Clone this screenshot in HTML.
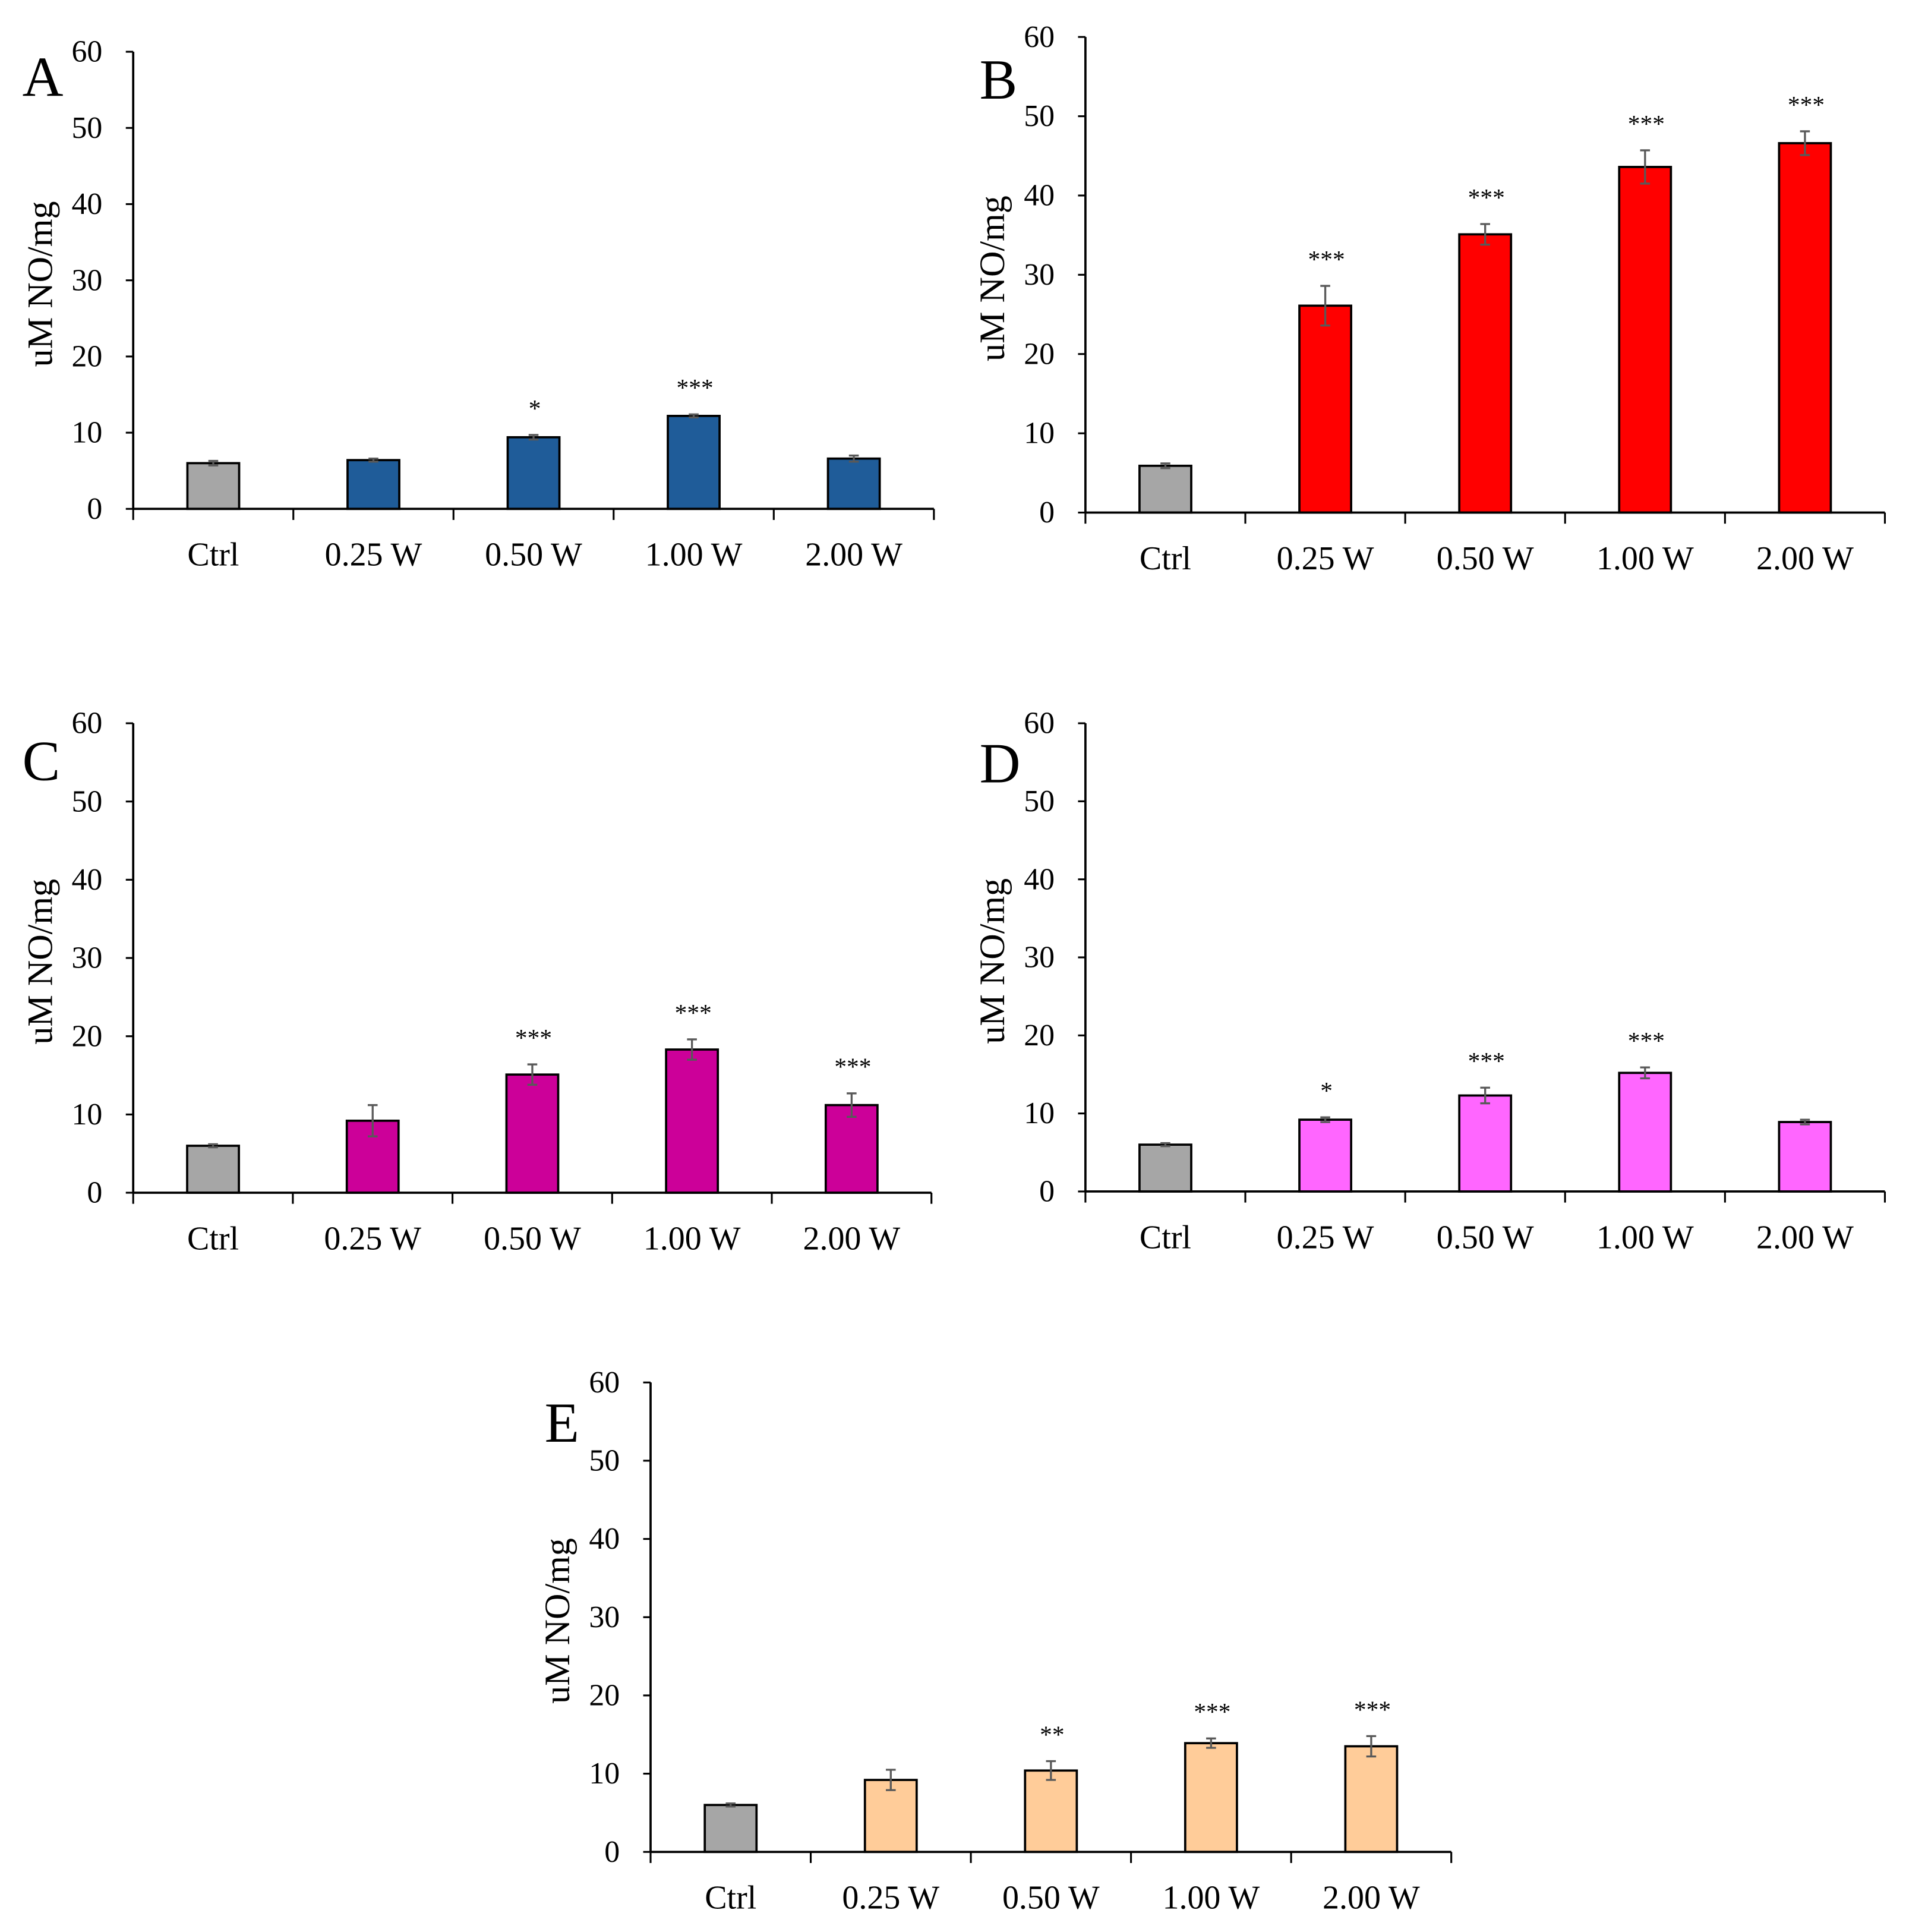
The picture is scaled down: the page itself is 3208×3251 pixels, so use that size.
<!DOCTYPE html>
<html><head><meta charset="utf-8"><style>
html,body{margin:0;padding:0;background:#fff;}
svg{display:block;}
text{font-family:"Liberation Serif",serif;fill:#000;}
</style></head><body>
<svg id="fig" width="3208" height="3251" viewBox="0 0 1547 1568" xmlns="http://www.w3.org/2000/svg"></svg>
<script>
const categories = ["Ctrl","0.25 W","0.50 W","1.00 W","2.00 W"];
const yTicks = [0,10,20,30,40,50,60];
const valuesA = [6.0,6.4,9.4,12.2,6.6];
const errorsA = [0.3,0.2,0.3,0.2,0.4];
const starsA = ["","","*","***",""];
const valuesB = [5.9,26.1,35.1,43.6,46.6];
const errorsB = [0.3,2.5,1.3,2.1,1.5];
const starsB = ["","***","***","***","***"];
const valuesC = [6.0,9.2,15.1,18.3,11.2];
const errorsC = [0.2,2.0,1.3,1.3,1.5];
const starsC = ["","","***","***","***"];
const valuesD = [6.0,9.2,12.3,15.2,8.9];
const errorsD = [0.2,0.3,1.0,0.7,0.3];
const starsD = ["","*","***","***",""];
const valuesE = [6.0,9.2,10.4,13.9,13.5];
const errorsE = [0.2,1.3,1.2,0.6,1.3];
const starsE = ["","","**","***","***"];

const NS="http://www.w3.org/2000/svg";
const svg=document.getElementById('fig');
function mk(tag,attrs,parent){const e=document.createElementNS(NS,tag);for(const k in attrs)e.setAttribute(k,attrs[k]);(parent||svg).appendChild(e);return e;}

const panels=[
 {id:'a',letter:'A',x0:108,x1:758,yTop:42,y0:413,vals:valuesA,errs:errorsA,stars:starsA,color:'#1f5c99',lx:18,ly:78},
 {id:'b',letter:'B',x0:881,x1:1530,yTop:30,y0:416,vals:valuesB,errs:errorsB,stars:starsB,color:'#ff0000',lx:795,ly:80},
 {id:'c',letter:'C',x0:108,x1:756,yTop:587,y0:968,vals:valuesC,errs:errorsC,stars:starsC,color:'#cc0099',lx:18,ly:633},
 {id:'d',letter:'D',x0:881,x1:1530,yTop:587,y0:967,vals:valuesD,errs:errorsD,stars:starsD,color:'#ff66ff',lx:795,ly:635},
 {id:'e',letter:'E',x0:528,x1:1178,yTop:1122,y0:1503,vals:valuesE,errs:errorsE,stars:starsE,color:'#ffcc99',lx:442,ly:1170}
];

panels.forEach(p=>{
  const g=mk('g',{});
  
  
  const yS=v=>p.y0-(v/60)*(p.y0-p.yTop);
  const n=categories.length, band=(p.x1-p.x0)/n;
  const xC=i=>p.x0+band*(i+0.5);
  const bw=42;
  const L=mk('text',{x:p.lx,y:p.ly,'font-size':46},g);L.textContent=p.letter;
  
  
  const yt=mk('text',{x:0,y:0,'font-size':29,'text-anchor':'middle',transform:`translate(${p.x0-66},${yS(30)+3}) rotate(-90)`},g);
  yt.textContent='uM NO/mg';
  
  
  yTicks.forEach(t=>{
    mk('line',{x1:p.x0-6,x2:p.x0,y1:yS(t),y2:yS(t),stroke:'#000','stroke-width':1.5},g);
    const tl=mk('text',{x:p.x0-25,y:yS(t)+8,'font-size':25,'text-anchor':'end'},g);
    tl.textContent=t;
    
    
  });
  p.vals.forEach((v,i)=>{
    const r=mk('rect',{x:xC(i)-bw/2,y:yS(v),width:bw,height:p.y0-yS(v),fill:i===0?'#a6a6a6':p.color,stroke:'#000','stroke-width':1.8},g);
    
    
    const e=p.errs[i], top=yS(v+e), bot=yS(v-e);
    const eg=mk('g',{stroke:'#595959','stroke-width':1.6},g);
    
    
    mk('line',{x1:xC(i),x2:xC(i),y1:top,y2:bot},eg);
    mk('line',{x1:xC(i)-4,x2:xC(i)+4,y1:top,y2:top},eg);
    mk('line',{x1:xC(i)-4,x2:xC(i)+4,y1:bot,y2:bot},eg);
    if(p.stars[i]){
      const s=mk('text',{x:xC(i)+1,y:top-15,'font-size':20,'text-anchor':'middle'},g);
      s.textContent=p.stars[i];
      
      
    }
    const cl=mk('text',{x:xC(i),y:p.y0+46,'font-size':27,'text-anchor':'middle'},g);
    cl.textContent=categories[i];
    
    
  });
  const ya=mk('line',{x1:p.x0,x2:p.x0,y1:p.yTop,y2:p.y0,stroke:'#000','stroke-width':1.8},g);
  
  
  const xa=mk('line',{x1:p.x0,x2:p.x1,y1:p.y0,y2:p.y0,stroke:'#000','stroke-width':1.8},g);
  
  
  for(let i=0;i<=n;i++){
    mk('line',{x1:p.x0+band*i,x2:p.x0+band*i,y1:p.y0,y2:p.y0+9,stroke:'#000','stroke-width':1.5},g);
  }
});
</script>
</body></html>
